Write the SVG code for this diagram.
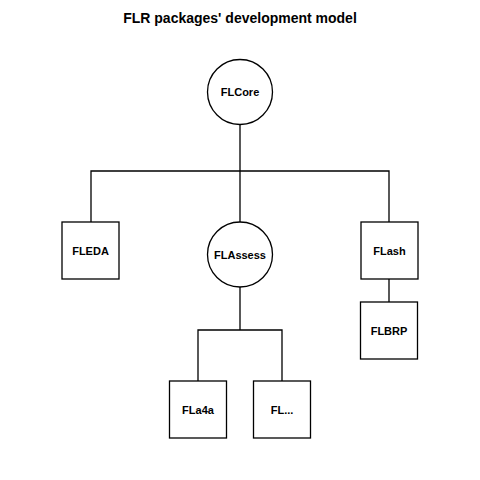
<svg xmlns="http://www.w3.org/2000/svg" width="480" height="480" viewBox="0 0 480 480">
<style>
.n{fill:#fff;stroke:#000;stroke-width:1.3}
.c{fill:none;stroke:#000;stroke-width:1.3}
text{font-family:"Liberation Sans",Arial,sans-serif;font-weight:bold;text-anchor:middle}
.l{font-size:11px}
.t{font-size:14px}
</style>
<rect width="480" height="480" fill="#fff"/>
<text class="t" x="240" y="23">FLR packages' development model</text>
<g id="connectors">
<path class="c" d="M240 124.5V171M91 222V171H389V222M240 171V222M240 287V330M198 381V330H282V381M389 279V302"/>
</g>
<g id="FLCore"><circle class="n" cx="240" cy="92" r="32.5"/><text class="l" x="240" y="96">FLCore</text></g>
<g id="FLEDA"><rect class="n" x="62" y="222" width="57" height="57"/><text class="l" x="90.5" y="254.5">FLEDA</text></g>
<g id="FLAssess"><circle class="n" cx="240" cy="254.5" r="32.5"/><text class="l" x="240" y="258.5">FLAssess</text></g>
<g id="FLash"><rect class="n" x="361" y="222" width="57" height="57"/><text class="l" x="389.5" y="254.5">FLash</text></g>
<g id="FLBRP"><rect class="n" x="360.5" y="302" width="57" height="57"/><text class="l" x="389" y="334.5">FLBRP</text></g>
<g id="FLa4a"><rect class="n" x="169.5" y="381" width="57" height="57"/><text class="l" x="198" y="413.5">FLa4a</text></g>
<g id="FLdots"><rect class="n" x="253.5" y="381" width="57" height="57"/><text class="l" x="282" y="413.5">FL...</text></g>
</svg>
